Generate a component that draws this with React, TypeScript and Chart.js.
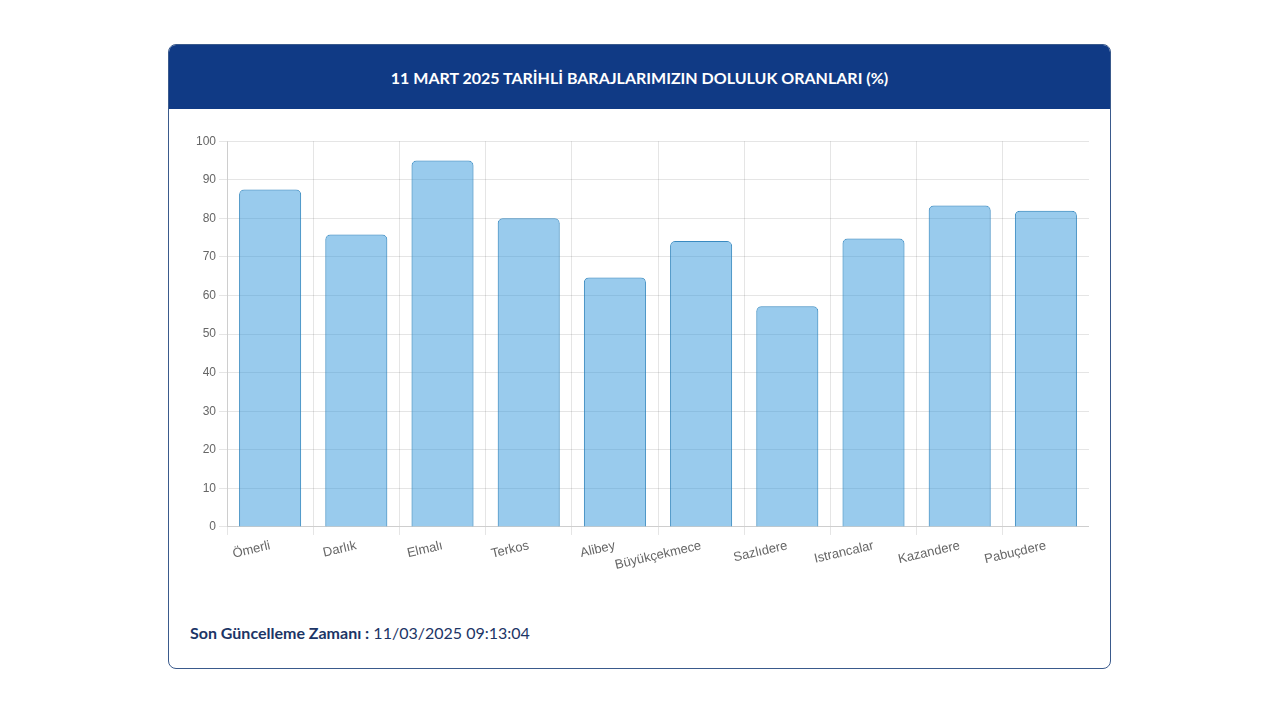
import React, { useEffect, useRef } from "react";
import { Chart, registerables } from "chart.js";

Chart.register(...registerables);

const categories = [
  "Ömerli",
  "Darlık",
  "Elmalı",
  "Terkos",
  "Alibey",
  "Büyükçekmece",
  "Sazlıdere",
  "Istrancalar",
  "Kazandere",
  "Pabuçdere",
];
const fillRates = [87.5, 75.8, 95.0, 80.0, 64.7, 74.1, 57.2, 74.8, 83.3, 82.0];
const titleText = "11 MART 2025 TARİHLİ BARAJLARIMIZIN DOLULUK ORANLARI (%)";
const footerLabel = "Son Güncelleme Zamanı";
const footerValue = "11/03/2025 09:13:04";

export default function App() {
  const canvasRef = useRef<HTMLCanvasElement | null>(null);

  useEffect(() => {
    if (!canvasRef.current) return;
    const chart = new Chart(canvasRef.current, {
      type: "bar",
      data: {
        labels: categories,
        datasets: [
          {
            label: "Doluluk",
            data: fillRates,
            backgroundColor: "rgba(52, 152, 219, 0.5)",
            borderColor: "rgba(35, 125, 185, 0.9)",
            borderWidth: 1,
            borderRadius: 5,
          },
        ],
      },
      options: {
        animation: false,
        responsive: false,
        maintainAspectRatio: false,
        plugins: { legend: { display: false }, tooltip: { enabled: false } },
        layout: { padding: 0 },
        scales: {
          x: {
            grid: { color: "rgba(0,0,0,0.1)" },
            ticks: {
              color: "#666",
              font: { family: "'Liberation Sans', Arial, sans-serif", size: 13 },
              minRotation: 13,
              maxRotation: 13,
            },
          },
          y: {
            min: 0,
            max: 100,
            grid: { color: "rgba(0,0,0,0.1)" },
            ticks: {
              stepSize: 10,
              color: "#666",
              font: { family: "'Liberation Sans', Arial, sans-serif", size: 12 },
            },
          },
        },
      },
    });
    return () => chart.destroy();
  }, []);

  return (
    <div style={{ position: "fixed", left: 0, top: 0, width: 1280, height: 720, background: "#fff" }}>
      <div
        style={{
          position: "absolute",
          left: 168,
          top: 44,
          width: 941,
          height: 623,
          border: "1px solid #3a5a8c",
          borderRadius: 8,
          overflow: "hidden",
          background: "#fff",
        }}
      >
        <div
          style={{
            height: 64,
            background: "#103a85",
            color: "#fff",
            display: "flex",
            alignItems: "center",
            justifyContent: "center",
            fontFamily: "Lato, 'Noto Sans', sans-serif",
            fontWeight: 700,
            fontSize: 16,
          }}
        >
          {titleText}
        </div>
        <canvas
          ref={canvasRef}
          width={896}
          height={445}
          style={{ position: "absolute", left: 24, top: 86, width: 896, height: 445 }}
        />
        <div
          style={{
            position: "absolute",
            left: 21,
            top: 578,
            fontFamily: "Lato, 'Noto Sans', sans-serif",
            fontSize: 16,
            color: "#1c3566",
            whiteSpace: "nowrap",
          }}
        >
          <span style={{ fontWeight: 700 }}>{footerLabel} :</span> {footerValue}
        </div>
      </div>
    </div>
  );
}
